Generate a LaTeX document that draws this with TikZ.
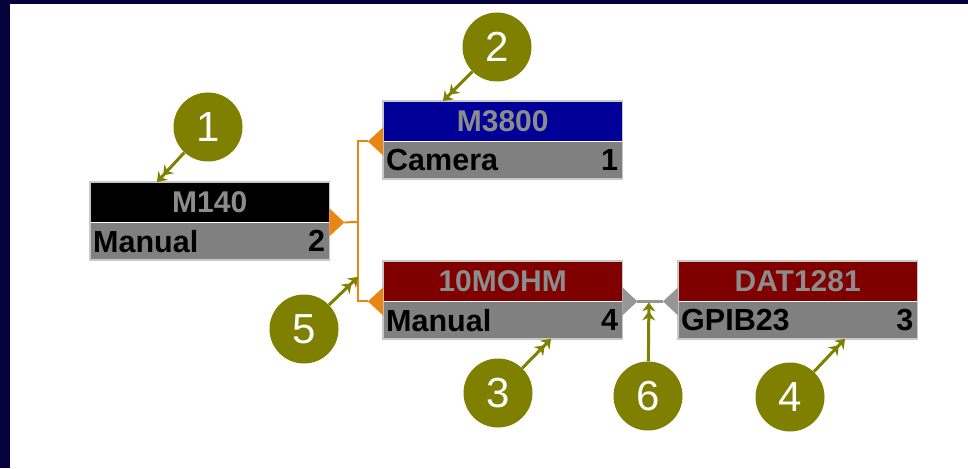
\documentclass[tikz,border=0pt]{standalone}
\usepackage{fontspec}
\setmainfont{Liberation Sans}
\usetikzlibrary{arrows.meta,calc}

\definecolor{framenavy}{RGB}{6,0,60}
\definecolor{hdnavy}{RGB}{0,0,153}
\definecolor{hdred}{RGB}{128,0,0}
\definecolor{footgray}{RGB}{128,128,128}
\definecolor{headtext}{RGB}{140,140,140}
\definecolor{rimgray}{RGB}{200,200,200}
\definecolor{busorange}{RGB}{232,134,20}
\definecolor{linkgray}{RGB}{150,150,150}
\definecolor{olivemark}{RGB}{128,128,0}

\begin{document}
\begin{tikzpicture}[x=1pt,y=-1pt,
  head/.style={anchor=north west, minimum width=239, minimum height=40,
    inner sep=0, text=headtext, font=\fontsize{30}{30}\selectfont\bfseries},
  foot/.style={anchor=north west, fill=footgray, minimum width=239,
    minimum height=37, inner sep=0},
  ftext/.style={inner sep=0, text=black, font=\fontsize{30.5}{30}\selectfont\bfseries},
  rim/.style={draw=rimgray, line width=1.5},
  wire/.style={draw=busorange, line width=2},
  link/.style={draw=linkgray, line width=2.5},
  callout/.style={circle, fill=olivemark, minimum size=69, inner sep=0,
    text=white, font=\fontsize{42}{42}\selectfont},
  pointer/.style={draw=olivemark, line width=3,
    -{Stealth[length=9pt,width=13pt]Stealth[length=9pt,width=13pt]}}
]
\useasboundingbox (0,0) rectangle (968,468);

% window frame
\fill[framenavy] (0,0) rectangle (10,468);
\fill[framenavy] (0,0) rectangle (968,4);

% instrument blocks: coloured title bar above a grey status bar
\node[head, fill=black] (m140) at (90,182) {M140};
\node[foot] (m140f) at (m140.south west) {};
\node[ftext, anchor=west] (m140l) at ([xshift=3]m140f.west) {Manual};
\node[ftext, anchor=east] (m140n) at ([xshift=-4]m140f.east) {2};
\draw[rim] (m140.north west) rectangle (m140f.south east);

\node[head, fill=hdnavy] (m3800) at (383,101) {M3800};
\node[foot] (m3800f) at (m3800.south west) {};
\node[ftext, anchor=west] (m3800l) at ([xshift=3]m3800f.west) {Camera};
\node[ftext, anchor=east] (m3800n) at ([xshift=-4]m3800f.east) {1};
\draw[rim] (m3800.north west) rectangle (m3800f.south east);

\node[head, fill=hdred] (mohm) at (383,261) {10MOHM};
\node[foot] (mohmf) at (mohm.south west) {};
\node[ftext, anchor=west] (mohml) at ([xshift=3]mohmf.west) {Manual};
\node[ftext, anchor=east] (mohmn) at ([xshift=-4]mohmf.east) {4};
\draw[rim] (mohm.north west) rectangle (mohmf.south east);

\node[head, fill=hdred] (dat) at (678,261) {DAT1281};
\node[foot] (datf) at (dat.south west) {};
\node[ftext, anchor=west] (datl) at ([xshift=3]datf.west) {GPIB23};
\node[ftext, anchor=east] (datn) at ([xshift=-4]datf.east) {3};
\draw[rim] (dat.north west) rectangle (datf.south east);

% ports: triangles pointing away from their block
\coordinate (pm140) at ($(m140.south east)+(15,0)$);
\fill[busorange] ($(m140.south east)+(0,-14)$) -- (pm140) -- ($(m140.south east)+(0,14)$) -- cycle;
\coordinate (pm3800) at ($(m3800.south west)+(-15,0)$);
\fill[busorange] ($(m3800.south west)+(0,-14)$) -- (pm3800) -- ($(m3800.south west)+(0,14)$) -- cycle;
\coordinate (pmohm) at ($(mohm.south west)+(-15,0)$);
\fill[busorange] ($(mohm.south west)+(0,-14)$) -- (pmohm) -- ($(mohm.south west)+(0,14)$) -- cycle;
\coordinate (pmohmr) at ($(mohm.south east)+(15,0)$);
\fill[linkgray] ($(mohm.south east)+(0,-14)$) -- (pmohmr) -- ($(mohm.south east)+(0,14)$) -- cycle;
\coordinate (pdat) at ($(dat.south west)+(-15,0)$);
\fill[linkgray] ($(dat.south west)+(0,-14)$) -- (pdat) -- ($(dat.south west)+(0,14)$) -- cycle;

% orange bus from M140 to the two right-hand blocks
\coordinate (jx) at (358,222);
\draw[wire] (pm140) -- (jx);
\draw[wire] (pm3800) -| (jx) |- (pmohm);
% grey link between 10MOHM and DAT1281
\draw[link] (pmohmr) -- (pdat);

% numbered callouts
\node[callout] (c1) at (208,127) {1};
\node[callout] (c2) at (497,47) {2};
\node[callout] (c3) at (498,393) {3};
\node[callout] (c4) at (790,397) {4};
\node[callout] (c5) at (304,329) {5};
\node[callout] (c6) at (648,396) {6};

\coordinate (t1) at ($(m140.north west)+(67,0)$);
\coordinate (t2) at ($(m3800.north west)+(60,0)$);
\coordinate (t3) at ($(mohmf.south west)+(168,0)$);
\coordinate (t4) at ($(datf.south west)+(167,0)$);
\coordinate (t5) at ($(jx)+(0,55)$);
\coordinate (t6) at ($(pmohmr)!0.45!(pdat)+(0,1)$);

\draw[pointer] (c1) -- (t1);
\draw[pointer] (c2) -- (t2);
\draw[pointer] (c3) -- (t3);
\draw[pointer] (c4) -- (t4);
\draw[pointer] (c5) -- (t5);
\draw[pointer] (c6) -- (t6);
\end{tikzpicture}
\end{document}
